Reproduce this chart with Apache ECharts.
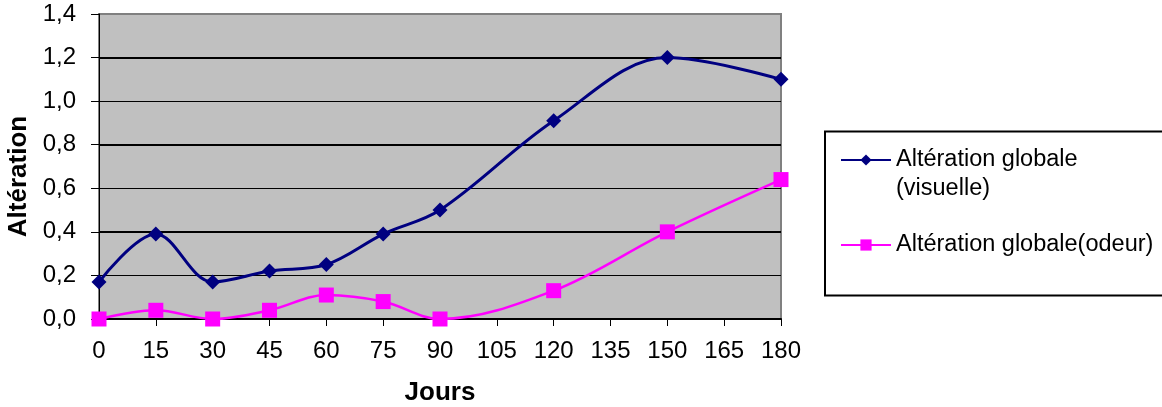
<!DOCTYPE html>
<html>
<head>
<meta charset="utf-8">
<script src="https://cdn.jsdelivr.net/npm/echarts@6/dist/echarts.min.js"></script>
<style>
  html, body { margin: 0; padding: 0; background: #fff; }
  #chart { width: 1162px; height: 407px; }
</style>
</head>
<body>
<div id="chart"></div>
<script>
// Days of storage and the two alteration scores
const jours = [0, 15, 30, 45, 60, 75, 90, 120, 150, 180];
const visuelle = [0.17, 0.39, 0.17, 0.22, 0.25, 0.39, 0.50, 0.91, 1.20, 1.10];
const odeur = [0.00, 0.04, 0.00, 0.04, 0.11, 0.08, 0.00, 0.13, 0.40, 0.64];

const seriesNames = ['Altération globale (visuelle)', 'Altération globale(odeur)'];
// Legend labels (leading blank line keeps the icon level with the first text line)
const legendLabels = ['\nAltération globale\n(visuelle)', 'Altération globale(odeur)'];

const FONT = '"Liberation Sans", Arial, sans-serif';

const chart = echarts.init(document.getElementById('chart'), null, { renderer: 'canvas' });

const fmt = v => v.toFixed(1).replace('.', ',');

chart.setOption({
  animation: false,
  backgroundColor: '#ffffff',
  textStyle: { fontFamily: FONT },
  grid: {
    left: 99, top: 14, right: 381, bottom: 88,
    outerBoundsMode: 'none',
    containLabel: false,
    show: true,
    backgroundColor: '#c0c0c0',
    borderColor: '#808080',
    borderWidth: 2
  },
  graphic: [{
    type: 'rect',
    z: 1,
    shape: { x: 825, y: 131.5, width: 400, height: 164 },
    style: { fill: '#ffffff', stroke: '#000000', lineWidth: 2 }
  }],
  legend: {
    orient: 'vertical',
    left: 840,
    top: 116.5,
    padding: 0,
    itemGap: 27,
    itemWidth: 50,
    itemHeight: 14,
    data: seriesNames,
    formatter: name => legendLabels[seriesNames.indexOf(name)],
    textStyle: { fontFamily: FONT, fontSize: 23.5, color: '#000', lineHeight: 29 }
  },
  xAxis: {
    type: 'value',
    min: 0, max: 180, interval: 15,
    name: 'Jours',
    nameLocation: 'middle',
    nameGap: 61,
    nameTextStyle: { fontFamily: FONT, fontSize: 26, fontWeight: 'bold', color: '#000' },
    axisLine: { show: true, lineStyle: { color: '#000', width: 2 } },
    axisTick: { show: true, length: 7, lineStyle: { color: '#000', width: 1 } },
    axisLabel: { fontFamily: FONT, fontSize: 24, color: '#000', margin: 20 },
    splitLine: { show: false }
  },
  yAxis: [{
    type: 'value',
    min: 0, max: 1.4, interval: 0.2,
    name: 'Altération',
    nameLocation: 'middle',
    nameGap: 62,
    nameTextStyle: { fontFamily: FONT, fontSize: 26, fontWeight: 'bold', color: '#000', padding: [0, 20, 0, 0] },
    axisLine: { show: true, lineStyle: { color: '#000', width: 1 } },
    axisTick: { show: true, length: 8, lineStyle: { color: '#000', width: 1 } },
    axisLabel: { fontFamily: FONT, fontSize: 24, color: '#000', margin: 23, formatter: fmt },
    splitLine: { show: true, showMinLine: false, showMaxLine: false, lineStyle: { color: '#000', width: 1 } }
  }, {
    // heavier rules every 0.4
    type: 'value',
    min: 0, max: 1.4, interval: 0.4,
    position: 'left',
    axisLine: { show: false },
    axisTick: { show: false },
    axisLabel: { show: false },
    splitLine: { show: true, showMinLine: false, showMaxLine: false, lineStyle: { color: '#000', width: 2 } }
  }],
  series: [{
    name: seriesNames[0],
    type: 'line',
    smooth: 0.35,
    data: jours.map((d, i) => [d, visuelle[i]]),
    symbol: 'diamond',
    symbolSize: 15,
    showAllSymbol: true,
    lineStyle: { color: '#000080', width: 3 },
    itemStyle: { color: '#000080' },
    z: 3
  }, {
    name: seriesNames[1],
    type: 'line',
    smooth: 0.35,
    data: jours.map((d, i) => [d, odeur[i]]),
    symbol: 'rect',
    symbolSize: 15,
    showAllSymbol: true,
    lineStyle: { color: '#ff00ff', width: 2.5 },
    itemStyle: { color: '#ff00ff' },
    z: 3
  }]
});
</script>
</body>
</html>
